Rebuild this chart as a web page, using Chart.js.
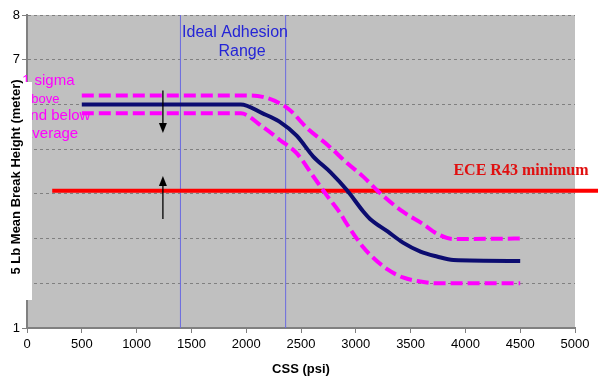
<!DOCTYPE html>
<html>
<head>
<meta charset="utf-8">
<script src="https://cdn.jsdelivr.net/npm/chart.js@4.4.1/dist/chart.umd.min.js"></script>
<style>
  html, body { margin: 0; padding: 0; background: #fff; }
</style>
</head>
<body>
<canvas id="chart" width="600" height="390"></canvas>
<script>
// mean break height vs CSS
const meanPsi = [500, 1950, 2150, 2300, 2460, 2610, 2770, 2920, 3070, 3130, 3290, 3430, 3590, 3740, 3890, 4500];
const meanHeight = [6.0, 6.0, 5.8, 5.62, 5.3, 4.84, 4.48, 4.08, 3.6, 3.44, 3.16, 2.91, 2.71, 2.6, 2.52, 2.5];

// +1 sigma
const upperPsi = [500, 2000, 2150, 2310, 2400, 2560, 2740, 2920, 3070, 3220, 3430, 3610, 3740, 3890, 4500];
const upperHeight = [6.2, 6.2, 6.17, 6.02, 5.87, 5.46, 5.1, 4.69, 4.38, 4.02, 3.6, 3.33, 3.11, 2.99, 3.0];

// -1 sigma
const lowerPsi = [500, 1950, 2150, 2310, 2460, 2610, 2740, 2860, 2920, 3070, 3130, 3290, 3430, 3590, 3740, 4500];
const lowerHeight = [5.8, 5.8, 5.5, 5.2, 4.91, 4.4, 3.95, 3.56, 3.32, 2.8, 2.64, 2.31, 2.13, 2.04, 2.0, 2.0];

// ECE R43 minimum
const minimumPsi = [230, 5210];
const minimumHeight = [4.07, 4.07];

// ideal adhesion range bounds
const rangeBounds = [1400, 2360];

// arrows at x = 1240
const arrowPsi = 1240;
const arrowDown = [6.31, 5.36];
const arrowUp = [3.44, 4.4];

const xTicks = [0, 500, 1000, 1500, 2000, 2500, 3000, 3500, 4000, 4500, 5000];
const yTicks = [1, 2, 3, 4, 5, 6, 7, 8];

const FONT = "Arial, 'Liberation Sans', sans-serif";

function pts(xs, ys) {
  return xs.map((x, i) => ({ x: x, y: ys[i] }));
}

const datasets = [
  {
    label: "+1 sigma",
    data: pts(upperPsi, upperHeight),
    borderColor: "#ff00ff",
    borderWidth: 4,
    borderDash: [12, 5],
    cubicInterpolationMode: "monotone",
  },
  {
    label: "-1 sigma",
    data: pts(lowerPsi, lowerHeight),
    borderColor: "#ff00ff",
    borderWidth: 4,
    borderDash: [12, 5],
    cubicInterpolationMode: "monotone",
  },
  {
    label: "Mean",
    data: pts(meanPsi, meanHeight),
    borderColor: "#0c0c70",
    borderWidth: 4,
    cubicInterpolationMode: "monotone",
  },
  {
    label: "ECE R43 minimum",
    data: pts(minimumPsi, minimumHeight),
    borderColor: "#ff0000",
    borderWidth: 4,
    clip: false,
  },
];

rangeBounds.forEach((b) => {
  datasets.push({
    label: "range",
    data: [{ x: b, y: 1 }, { x: b, y: 8 }],
    borderColor: "#6a6ae0",
    borderWidth: 1,
  });
});

const plotBg = {
  id: "plotBg",
  beforeDraw(chart) {
    const { ctx, chartArea: a } = chart;
    ctx.save();
    ctx.fillStyle = "#c0c0c0";
    ctx.fillRect(a.left, a.top, a.right - a.left, a.bottom - a.top);
    ctx.restore();
  },
};

function arrow(ctx, x, y0, y1) {
  const dir = y1 > y0 ? 1 : -1;
  ctx.beginPath();
  ctx.moveTo(x, y0);
  ctx.lineTo(x, y1 - dir * 8);
  ctx.stroke();
  ctx.beginPath();
  ctx.moveTo(x, y1);
  ctx.lineTo(x - 4, y1 - dir * 10);
  ctx.lineTo(x + 4, y1 - dir * 10);
  ctx.closePath();
  ctx.fill();
}

const notes = {
  id: "notes",
  afterDatasetsDraw(chart) {
    const { ctx, scales: { x, y } } = chart;
    ctx.save();

    ctx.strokeStyle = "#000";
    ctx.fillStyle = "#000";
    ctx.lineWidth = 1.3;
    const ax = x.getPixelForValue(arrowPsi);
    arrow(ctx, ax, y.getPixelForValue(arrowDown[0]), y.getPixelForValue(arrowDown[1]));
    arrow(ctx, ax, y.getPixelForValue(arrowUp[0]), y.getPixelForValue(arrowUp[1]));

    ctx.fillStyle = "#2424d6";
    ctx.font = "16px " + FONT;
    ctx.textAlign = "center";
    ctx.textBaseline = "middle";
    ctx.fillText("Ideal Adhesion", 235, 33);
    ctx.fillText("Range", 242, 52);

    ctx.fillStyle = "#e01010";
    ctx.font = "bold 16px 'Liberation Serif', 'Times New Roman', serif";
    ctx.fillText("ECE R43 minimum", 521, 171);

    ctx.fillStyle = "#ff00ff";
    ctx.textAlign = "left";
    ctx.font = "15px " + FONT;
    ctx.fillText("1 sigma", 22, 81);
    ctx.font = "13px " + FONT;
    ctx.fillText("above", 24, 99);
    ctx.font = "15px " + FONT;
    ctx.fillText("and below", 22, 116);
    ctx.fillText("average", 24, 134);
    ctx.restore();
  },
  afterDraw(chart) {
    const { ctx } = chart;
    ctx.save();
    ctx.fillStyle = "#fff";
    ctx.fillRect(0, 82, 32, 218);
    ctx.translate(16, 177);
    ctx.rotate(-Math.PI / 2);
    ctx.fillStyle = "#000";
    ctx.font = "bold 13px " + FONT;
    ctx.textAlign = "center";
    ctx.textBaseline = "middle";
    ctx.fillText("5 Lb Mean Break Height (meter)", 0, 0);
    ctx.restore();
  },
};

new Chart(document.getElementById("chart"), {
  type: "line",
  data: { datasets: datasets },
  options: {
    responsive: false,
    animation: false,
    layout: { padding: { top: 15, right: 25, left: 0, bottom: 0 } },
    elements: { point: { radius: 0 } },
    plugins: {
      legend: { display: false },
      tooltip: { enabled: false },
    },
    scales: {
      x: {
        type: "linear",
        min: 0,
        max: 5000,
        afterBuildTicks: (s) => { s.ticks = xTicks.map((v) => ({ value: v })); },
        afterFit: (s) => { s.height = 62; },
        ticks: {
          color: "#000",
          font: { size: 13, family: FONT },
          padding: 4,
          maxRotation: 0,
          callback: (v) => String(v),
        },
        grid: { display: true, drawOnChartArea: false, drawTicks: true, tickLength: 5, color: "#808080" },
        border: { display: true, color: "#808080", width: 2 },
        title: {
          display: true,
          text: "CSS (psi)",
          color: "#000",
          font: { size: 13, weight: "bold", family: FONT },
          padding: { top: 0, bottom: 13 },
        },
      },
      y: {
        type: "linear",
        min: 1,
        max: 8,
        afterBuildTicks: (s) => { s.ticks = yTicks.map((v) => ({ value: v })); },
        afterFit: (s) => { s.width = 27; },
        ticks: { color: "#000", font: { size: 13, family: FONT }, padding: 2, callback: (v) => String(v) },
        grid: { color: "#808080", lineWidth: 1, tickLength: 5 },
        border: { display: true, color: "#808080", width: 2, dash: [3, 3] },
      },
    },
  },
  plugins: [plotBg, notes],
});
</script>
</body>
</html>
